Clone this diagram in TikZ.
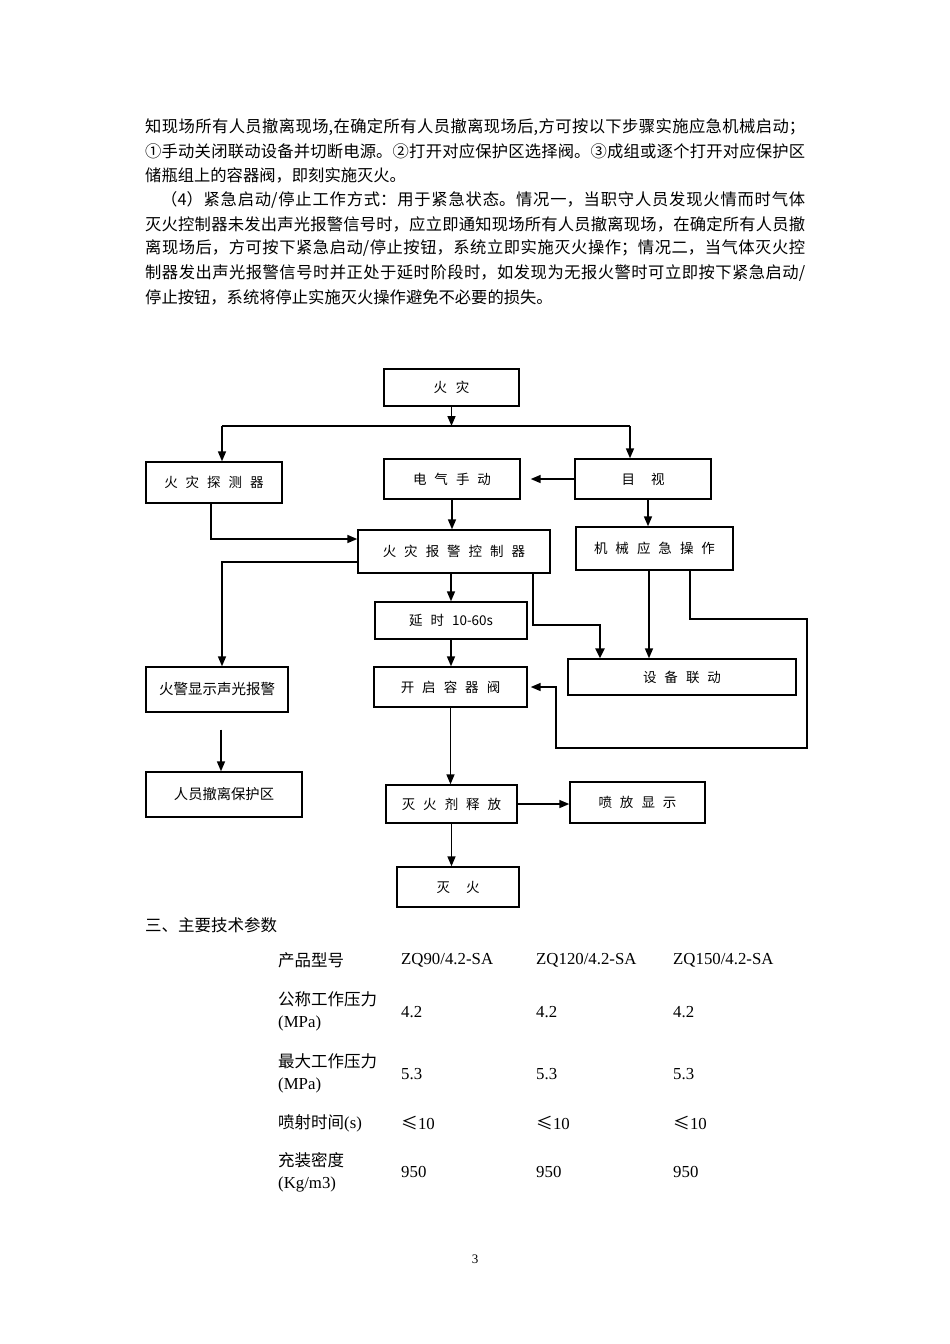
\documentclass[tikz,border=0pt]{standalone}
\usepackage{fontspec}
\usetikzlibrary{arrows.meta}
\newfontfamily\cjk{Noto Sans CJK SC}
\newfontfamily\tms{Liberation Serif}
\XeTeXlinebreaklocale "zh"
\XeTeXlinebreakskip=0pt plus 2pt
\newcommand\jlw[2]{\parbox{#1}{\parfillskip=0pt\relax #2}}
\newcommand\g{\hspace{8pt}}
\begin{document}
\begin{tikzpicture}[x=1pt,y=-1pt,
  para/.style={anchor=west,inner sep=0pt,font=\cjk\fontsize{16.3pt}{20pt}\selectfont},
  tcn/.style={anchor=west,inner sep=0pt,font=\cjk\fontsize{16.5pt}{20pt}\selectfont},
  tla/.style={anchor=west,inner sep=0pt,font=\tms\fontsize{16.8pt}{20pt}\selectfont},
  box/.style={draw,line width=1.4pt,inner sep=0pt,font=\cjk\fontsize{13.5pt}{16pt}\selectfont},
  arr/.style={line width=1.6pt,-{Triangle[length=10pt,width=8pt]}},
  tarr/.style={line width=2.6pt,-{Triangle[length=10pt,width=9pt]}},
  ln/.style={line width=1.6pt}]
\fill[white] (0,0) rectangle (950,1344);
\useasboundingbox (0,0) rectangle (950,1344);

% ---------- paragraph text ----------
\node[para] (l1) at (145,127) {\jlw{660pt}{知现场所有人员撤离现场,在确定所有人员撤离现场后,方可按以下步骤实施应急机械启动；}};
\node[para] (l2) at (145,151) {\jlw{660pt}{①手动关闭联动设备并切断电源。②打开对应保护区选择阀。③成组或逐个打开对应保护区}};
\node[para] (l3) at (145,175) {储瓶组上的容器阀，即刻实施灭火。};
\node[para] (l4) at (161,200) {\jlw{644pt}{（4）紧急启动/停止工作方式：用于紧急状态。情况一，当职守人员发现火情而时气体}};
\node[para] (l5) at (145,224) {\jlw{660pt}{灭火控制器未发出声光报警信号时，应立即通知现场所有人员撤离现场，在确定所有人员撤}};
\node[para] (l6) at (145,248) {\jlw{660pt}{离现场后，方可按下紧急启动/停止按钮，系统立即实施灭火操作；情况二，当气体灭火控}};
\node[para] (l7) at (145,273) {\jlw{660pt}{制器发出声光报警信号时并正处于延时阶段时，如发现为无报火警时可立即按下紧急启动/}};
\node[para] (l8) at (145,297) {停止按钮，系统将停止实施灭火操作避免不必要的损失。};

% ---------- flowchart boxes ----------
\node[box,minimum width=135pt,minimum height=37pt] (fire) at (451.5,387.5) {火\hspace{9pt}灾};
\node[box,minimum width=136pt,minimum height=41pt] (det) at (214,482.5) {火\g 灾\g 探\g 测\g 器};
\node[box,minimum width=136pt,minimum height=40pt] (elec) at (452,479) {电\g 气\g 手\g 动};
\node[box,minimum width=136pt,minimum height=40pt] (eye) at (643,479) {目\hspace{16pt}视};
\node[box,minimum width=192pt,minimum height=43pt] (ctrl) at (454,551.5) {火\g 灾\g 报\g 警\g 控\g 制\g 器};
\node[box,minimum width=157pt,minimum height=43pt] (mech) at (654.5,548.5) {机\g 械\g 应\g 急\g 操\g 作};
\node[box,minimum width=142pt,minimum height=45pt,font=\cjk\fontsize{14.5pt}{16pt}\selectfont] (alarm) at (217,689.5) {火警显示声光报警};
\node[box,minimum width=152pt,minimum height=37pt] (delay) at (451,620.5) {延\g 时\hspace{8pt}10-60s};
\node[box,minimum width=153pt,minimum height=40pt] (valve) at (450.5,687) {开\g 启\g 容\g 器\g 阀};
\node[box,minimum width=228pt,minimum height=36pt] (link) at (682,677) {设\g 备\g 联\g 动};
\node[box,minimum width=156pt,minimum height=45pt,font=\cjk\fontsize{14.3pt}{16pt}\selectfont] (evac) at (224,794.5) {人员撤离保护区};
\node[box,minimum width=131pt,minimum height=38pt] (rel) at (451.5,804) {灭\g 火\g 剂\g 释\g 放};
\node[box,minimum width=135pt,minimum height=41pt] (spray) at (637.5,802.5) {喷\g 放\g 显\g 示};
\node[box,minimum width=122pt,minimum height=40pt] (out) at (458,887) {灭\hspace{16pt}火};

% ---------- connectors ----------
\coordinate (j) at (451.5,426);
\coordinate (hl) at (222,426);
\coordinate (hr) at (630,426);
\draw[arr] (fire.south) -- (j);
\draw[ln] (hl) -- (hr);
\draw[arr] (hl) -- (hl |- det.north);
\draw[arr] (hr) -- (hr |- eye.north);
\draw[arr,shorten >=10pt] (eye.west) -- (elec.east);
\draw[arr] (elec.south) -- (elec.south |- ctrl.north);
\draw[arr] ([xshift=-3pt]det.south) |- ([yshift=12.5pt]ctrl.west);
\draw[arr] ([yshift=-10.5pt]ctrl.west) -| ([xshift=5pt]alarm.north);
\draw[arr] ([xshift=5pt]eye.south) -- ([xshift=5pt]eye.south |- mech.north);
\draw[arr] (ctrl.south -| delay.north) -- (delay.north);
\draw[arr] (delay.south) -- (delay.south |- valve.north);
\coordinate (t1) at (600,625);
\draw[tarr] ([xshift=79pt]ctrl.south) |- (t1) -- (t1 |- link.north);
\draw[arr] ([xshift=-5.5pt]mech.south) -- ([xshift=-5.5pt]mech.south |- link.north);
\coordinate (r1) at (807,619);
\coordinate (r2) at (556,748);
\draw[arr,shorten >=3pt] ([xshift=35.5pt]mech.south) |- (r1) |- (r2) |- (valve.east);
\draw[arr,shorten <=17pt] ([xshift=4pt]alarm.south) -- ([xshift=4pt]alarm.south |- evac.north);
\draw[arr] (valve.south) -- (valve.south |- rel.north);
\draw[arr] (rel.east) -- (rel.east -| spray.west);
\draw[arr] (rel.south) -- (rel.south |- out.north);

% ---------- table ----------
\node[tcn] (sec) at (145,925) {三、主要技术参数};
\node[tcn] (h0) at (278,960) {产品型号};
\node[tla] (h1) at (401,960) {ZQ90/4.2-SA};
\node[tla] (h2) at (536,960) {ZQ120/4.2-SA};
\node[tla] (h3) at (673,960) {ZQ150/4.2-SA};
\node[tcn] (a0) at (278,999) {公称工作压力};
\node[tla] (a0u) at (278,1023) {(MPa)};
\node[tla] (a1) at (401,1012) {4.2};
\node[tla] (a2) at (536,1012) {4.2};
\node[tla] (a3) at (673,1012) {4.2};
\node[tcn] (b0) at (278,1061) {最大工作压力};
\node[tla] (b0u) at (278,1085) {(MPa)};
\node[tla] (b1) at (401,1074) {5.3};
\node[tla] (b2) at (536,1074) {5.3};
\node[tla] (b3) at (673,1074) {5.3};
\node[tcn] (c0) at (278,1123) {喷射时间{\tms\fontsize{16.8pt}{20pt}\selectfont (s)}};
\node[tla] (c1) at (401,1123) {{\cjk ≤}10};
\node[tla] (c2) at (536,1123) {{\cjk ≤}10};
\node[tla] (c3) at (673,1123) {{\cjk ≤}10};
\node[tcn] (d0) at (278,1160) {充装密度};
\node[tla] (d0u) at (278,1184) {(Kg/m3)};
\node[tla] (d1) at (401,1172) {950};
\node[tla] (d2) at (536,1172) {950};
\node[tla] (d3) at (673,1172) {950};
\node[inner sep=0pt,font=\tms\fontsize{13pt}{15pt}\selectfont] (pg) at (475,1259) {3};
\end{tikzpicture}
\end{document}
